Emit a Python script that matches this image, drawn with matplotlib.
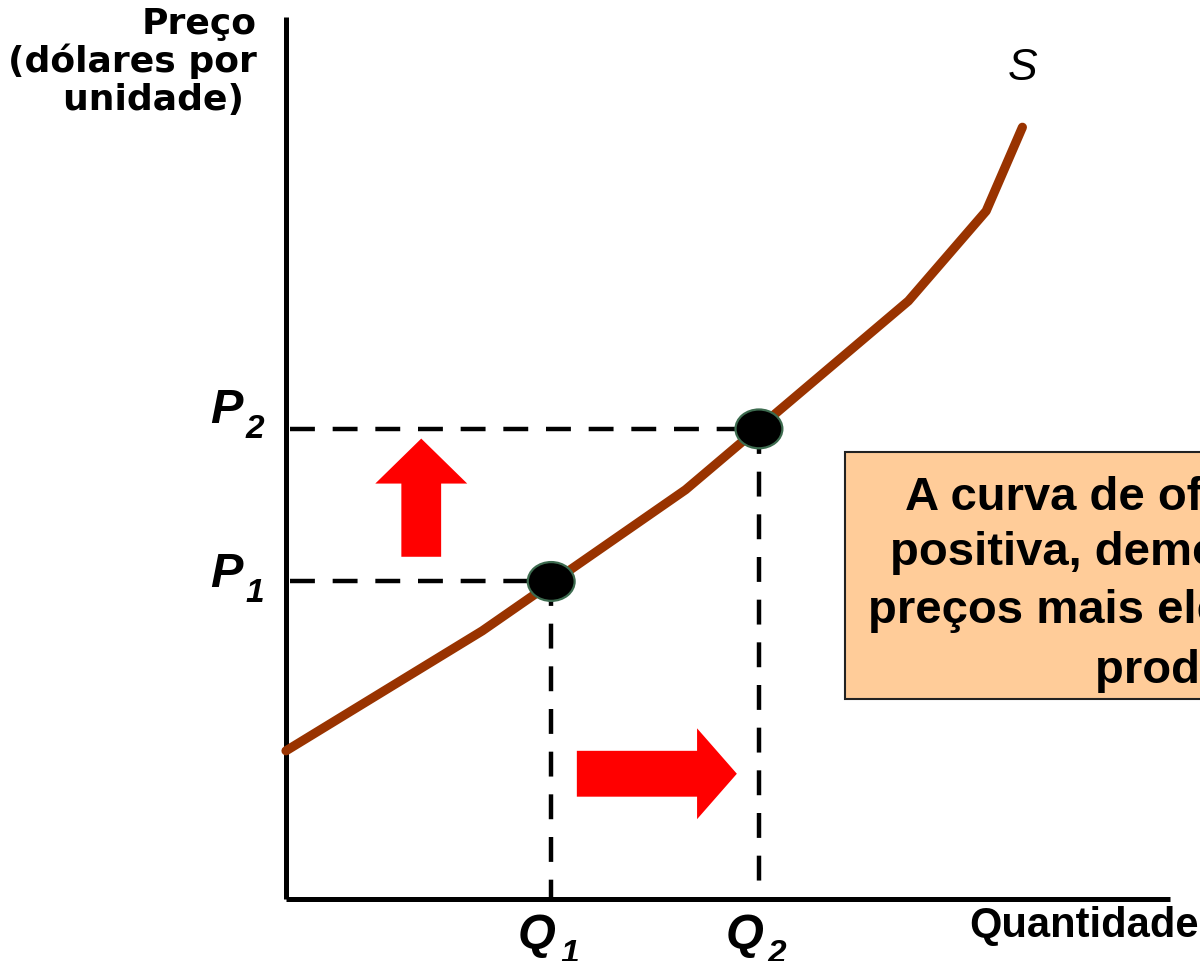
import matplotlib
matplotlib.use("Agg")
import matplotlib.pyplot as plt
from matplotlib.patches import Ellipse, Rectangle

# supply curve S (quantity, price)
curve_q = [0.0, 2.22, 4.52, 7.04, 7.92, 8.33]
curve_p = [1.68, 3.04, 4.64, 6.78, 7.80, 8.75]

# the two points on the curve
q_vals = [3.00, 5.35]
p_vals = [3.60, 5.33]
q_labels = ["Q", "Q"]
q_subs = ["1", "2"]
p_labels = ["P", "P"]
p_subs = ["1", "2"]

box_lines = ["A curva de oferta é",
             "positiva, demonstrando que",
             "preços mais elevados estimulam",
             "produção maior"]

fig = plt.figure(figsize=(12, 9.62), dpi=100)
ax = fig.add_axes([0, 0, 1, 1])
ax.set_xlim(-3.235, 10.339)
ax.set_ylim(-0.703, 10.204)
ax.axis("off")

# axes
ax.plot([0, 0], [0, 10.0], color="black", lw=3.6, solid_capstyle="butt")
ax.plot([0, 10.0], [0, 0], color="black", lw=3.6, solid_capstyle="butt")

# dashed guides
for q, p in zip(q_vals, p_vals):
    ax.plot([0.05, q], [p, p], color="black", lw=3.2, dashes=(5.6, 4.0))
    ax.plot([q, q], [p, 0], color="black", lw=3.2, dashes=(5.6, 4.0))

# supply curve
ax.plot(curve_q, curve_p, color="#993300", lw=6.6, solid_capstyle="round",
        solid_joinstyle="round", zorder=3)

for q, p in zip(q_vals, p_vals):
    ax.add_patch(Ellipse((q, p), 0.53, 0.44, facecolor="black",
                         edgecolor="#3d6b4f", lw=1.6, zorder=4))

# red arrows
ax.arrow(1.53, 3.88, 0, 1.34, width=0.45, head_width=1.04, head_length=0.51,
         length_includes_head=True, color="red", lw=0)
ax.arrow(3.29, 1.42, 1.81, 0, width=0.52, head_width=1.03, head_length=0.45,
         length_includes_head=True, color="red", lw=0)

# text box (runs past the right edge, as in the original)
ax.add_patch(Rectangle((6.32, 2.27), 5.0, 2.80, facecolor="#FFCC99",
                       edgecolor="#222222", lw=1.5, zorder=2))
box_x = [7.00, 6.83, 6.58, 9.15]
box_y = [4.42, 3.80, 3.14, 2.46]
for s, x, y in zip(box_lines, box_x, box_y):
    ax.text(x, y, s, fontsize=34, fontweight="bold", family="Liberation Sans",
            ha="left", va="baseline", zorder=5)

# labels
lab = dict(fontweight="bold", style="italic", family="Liberation Sans",
           ha="left", va="baseline")
p_lab_y = [3.55, 5.41]
for p, s, y in zip(p_labels, p_subs, p_lab_y):
    ax.text(-0.86, y, p, fontsize=35, **lab)
    ax.text(-0.46, y - 0.17, s, fontsize=24, **lab)
for q, s, x in zip(q_labels, q_subs, q_vals):
    ax.text(x - 0.38, -0.54, q, fontsize=35, **lab)
    ax.text(x + 0.10, -0.72, s, fontsize=24, **lab)

ax.text(-0.33, 10.13, "Preço\n(dólares por\nunidade) ", fontsize=26,
        fontweight="bold", family="DejaVu Sans", ha="right", va="top",
        ma="right", linespacing=1.12)
ax.text(10.33, -0.42, "Quantidade", fontsize=30, fontweight="bold",
        family="Liberation Sans", ha="right", va="baseline")
ax.text(8.16, 9.30, "S", fontsize=32, style="italic", family="Liberation Sans",
        ha="left", va="baseline")

fig.savefig("out.png", dpi=100)
